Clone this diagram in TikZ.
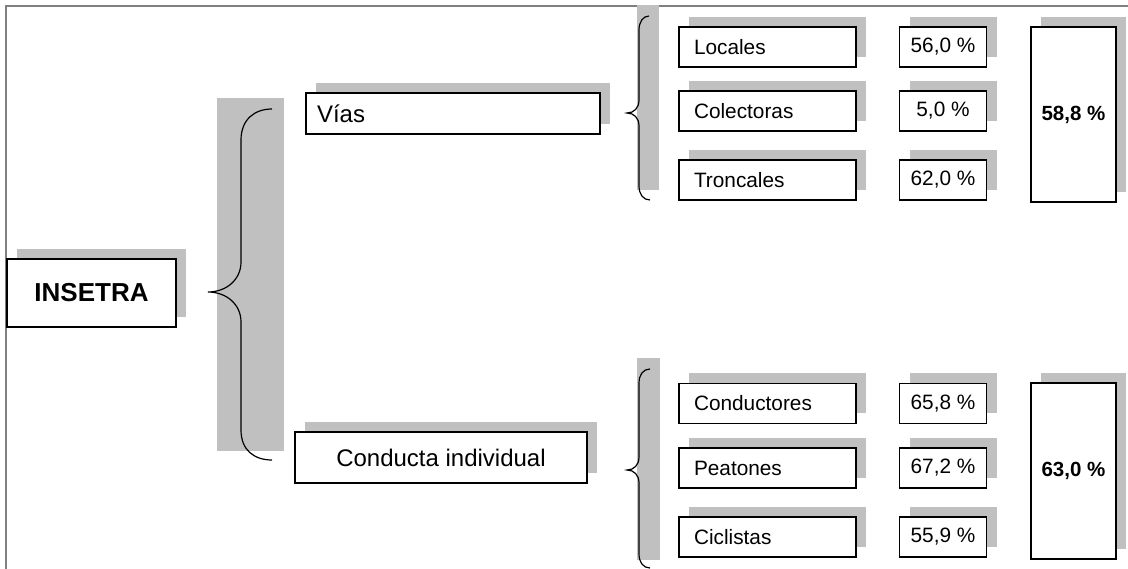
\documentclass[tikz,border=0pt]{standalone}
\usepackage{fontspec}
\setmainfont{Liberation Sans}
\usepackage{tikz}
\usetikzlibrary{shadows,positioning}
\definecolor{shadowgrey}{RGB}{192,192,192}
\definecolor{framegrey}{RGB}{128,128,128}
\tikzset{
  box/.style={draw, line width=1.5pt, fill=white, inner sep=0pt,
    general shadow={fill=shadowgrey, shadow xshift=10pt, shadow yshift=10pt}},
  topicbox/.style={box, minimum height=41pt, font=\fontsize{24}{28}\selectfont},
  itembox/.style={box, minimum height=40pt, text width=147pt, inner xsep=15pt,
    align=left, font=\fontsize{20.8}{24}\selectfont},
  pctbox/.style={box, minimum height=40pt, minimum width=87pt,
    font=\fontsize{20.8}{24}\selectfont},
  totalbox/.style={box, minimum width=85pt, minimum height=175pt,
    font=\fontsize{20.5}{24}\selectfont\bfseries},
  bracebar/.style={fill=shadowgrey},
  bracestroke/.style={draw, line width=1.2pt}
}

\begin{document}
\begin{tikzpicture}[x=1pt,y=-1pt]
  \useasboundingbox (0,0) rectangle (1128,569);
  \draw[framegrey, line width=2pt] (6,569) -- (6,6) -- (1128,6);

  % root
  \node[box, minimum width=169pt, minimum height=68pt,
        font=\fontsize{26}{30}\selectfont\bfseries] (insetra) at (91.5,293) {INSETRA};

  % big brace
  \fill[bracebar] (217,98) rectangle (284,451);
  \draw[bracestroke] (272,109) .. controls (254,109) and (241,120) .. (241,140)
    -- (241,262) .. controls (241,280) and (226,292) .. (208,292)
    .. controls (226,292) and (241,304) .. (241,322)
    -- (241,430) .. controls (241,450) and (254,460) .. (272,460);

  % topics
  \node[topicbox, text width=272pt, inner xsep=11pt, align=left] (vias) at (453,113.5) {Vías};
  \node[topicbox, minimum width=292pt, minimum height=51pt] (conducta) at (441,457.5) {Conducta individual};

  % upper brace
  \fill[bracebar] (637,5) rectangle (659,190);
  \draw[bracestroke] (649,16) .. controls (643,16) and (639,22) .. (639,30)
    -- (639,100) .. controls (639,108) and (634,113) .. (627,113)
    .. controls (634,113) and (639,118) .. (639,126)
    -- (639,186) .. controls (639,194) and (643,200) .. (650,200);

  % lower brace
  \fill[bracebar] (637,358) rectangle (660,560);
  \draw[bracestroke] (650,369) .. controls (643,369) and (639,375) .. (639,383)
    -- (639,457) .. controls (639,465) and (634,470) .. (627,470)
    .. controls (634,470) and (639,475) .. (639,483)
    -- (639,554) .. controls (639,562) and (643,568) .. (650,568);

  % vias items
  \node[itembox] (locales) at (767.5,47) {Locales};
  \node[itembox] (colectoras) at (767.5,111) {Colectoras};
  \node[itembox] (troncales) at (767.5,180) {Troncales};
  \node[pctbox, right=42pt of locales] (plocales) {56,0 \%};
  \node[pctbox, right=42pt of colectoras] (pcolectoras) {5,0 \%};
  \node[pctbox, right=42pt of troncales] (ptroncales) {62,0 \%};
  \node[totalbox] (tvias) at (1073.5,114.5) {58,8 \%};

  % conducta items
  \node[itembox] (conductores) at (767.5,403.5) {Conductores};
  \node[itembox] (peatones) at (767.5,468) {Peatones};
  \node[itembox] (ciclistas) at (767.5,537) {Ciclistas};
  \node[pctbox, right=42pt of conductores] (pconductores) {65,8 \%};
  \node[pctbox, right=42pt of peatones] (ppeatones) {67,2 \%};
  \node[pctbox, right=42pt of ciclistas] (pciclistas) {55,9 \%};
  \node[totalbox, minimum height=176pt] (tconducta) at (1073.5,471) {63,0 \%};
\end{tikzpicture}
\end{document}
